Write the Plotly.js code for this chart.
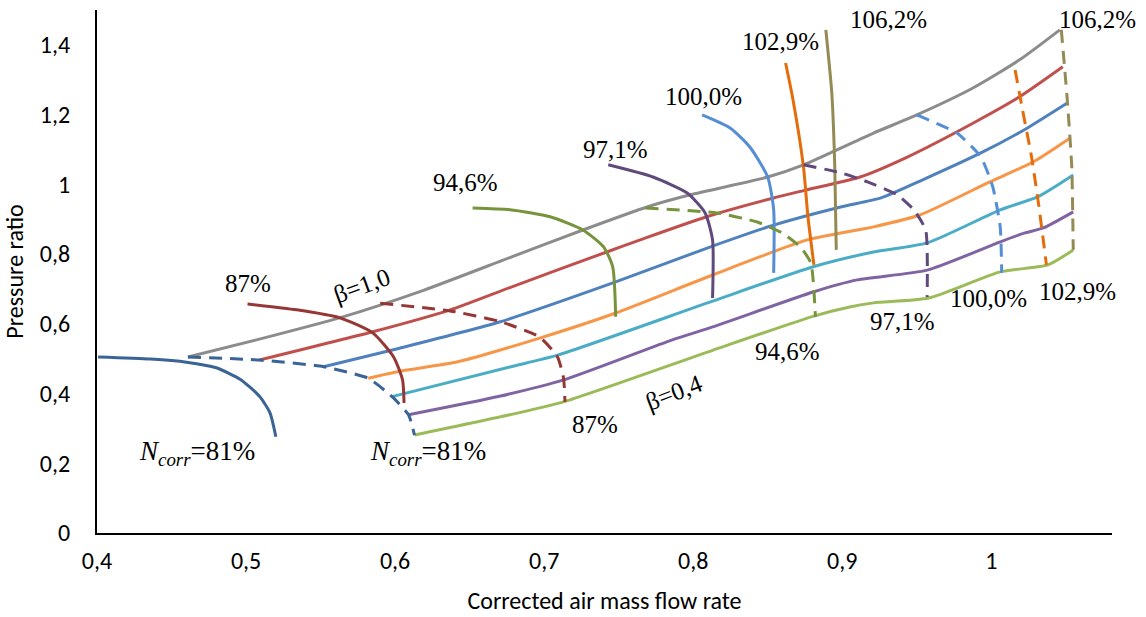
<!DOCTYPE html>
<html>
<head>
<meta charset="utf-8">
<script src="https://cdn.plot.ly/plotly-3.0.1.min.js"></script>
<style>
html,body{margin:0;padding:0;background:#fff;}
#chart{width:1146px;height:617px;}
</style>
</head>
<body>
<div id="chart"></div>
<script>
// ---------- Beta lines (solid), from beta = 1,0 (top) to beta = 0,4 (bottom) ----------
const betaNames = ["β=1,0", "β=0,9", "β=0,8", "β=0,7", "β=0,6", "β=0,5", "β=0,4"];
const beta1X = [0.461, 0.507, 0.565, 0.619, 0.677, 0.726, 0.769, 0.798, 0.850, 0.874, 0.921, 0.950, 0.988, 1.019, 1.046];
const beta1Y = [0.505, 0.554, 0.620, 0.696, 0.790, 0.869, 0.935, 0.970, 1.021, 1.056, 1.147, 1.199, 1.277, 1.357, 1.443];
const beta2X = [0.509, 0.585, 0.637, 0.677, 0.742, 0.764, 0.809, 0.854, 0.876, 0.912, 0.944, 0.988, 1.019, 1.048];
const beta2Y = [0.496, 0.577, 0.640, 0.704, 0.806, 0.840, 0.907, 0.961, 0.984, 1.021, 1.079, 1.176, 1.251, 1.337];
const beta3X = [0.552, 0.603, 0.670, 0.748, 0.813, 0.854, 0.899, 0.926, 0.954, 0.993, 1.024, 1.051];
const beta3Y = [0.477, 0.530, 0.605, 0.720, 0.823, 0.883, 0.935, 0.961, 1.013, 1.090, 1.161, 1.233];
const beta4X = [0.582, 0.603, 0.642, 0.697, 0.748, 0.813, 0.876, 0.921, 0.952, 0.999, 1.028, 1.053];
const beta4Y = [0.444, 0.464, 0.491, 0.559, 0.631, 0.740, 0.840, 0.878, 0.912, 1.007, 1.064, 1.133];
const beta5X = [0.598, 0.677, 0.709, 0.813, 0.880, 0.921, 0.957, 1.006, 1.031, 1.055];
const beta5Y = [0.391, 0.476, 0.510, 0.665, 0.763, 0.806, 0.832, 0.927, 0.964, 1.027];
const beta6X = [0.609, 0.670, 0.713, 0.786, 0.813, 0.881, 0.910, 0.957, 1.006, 1.022, 1.035, 1.055];
const beta6Y = [0.339, 0.392, 0.439, 0.554, 0.591, 0.692, 0.726, 0.754, 0.835, 0.860, 0.875, 0.921];
const beta7X = [0.613, 0.677, 0.713, 0.813, 0.881, 0.905, 0.921, 0.958, 1.006, 1.038, 1.055];
const beta7Y = [0.281, 0.339, 0.376, 0.524, 0.622, 0.648, 0.660, 0.674, 0.749, 0.769, 0.812];

// ---------- Speed lines, original map (solid) ----------
const speedLabels = ["81%", "87%", "94,6%", "97,1%", "100,0%", "102,9%", "106,2%"];
const sol81X  = [0.4007, 0.436, 0.460, 0.480, 0.496, 0.509, 0.516, 0.520];
const sol81Y  = [0.505, 0.499, 0.490, 0.474, 0.441, 0.392, 0.345, 0.276];
const sol87X  = [0.501, 0.534, 0.563, 0.585, 0.599, 0.605, 0.606];
const sol87Y  = [0.657, 0.640, 0.617, 0.574, 0.505, 0.439, 0.373];
const sol946X = [0.652, 0.677, 0.704, 0.726, 0.740, 0.746, 0.748];
const sol946Y = [0.932, 0.927, 0.907, 0.869, 0.820, 0.763, 0.620];
const sol971X = [0.743, 0.773, 0.796, 0.808, 0.813, 0.813];
const sol971Y = [1.056, 1.021, 0.975, 0.918, 0.840, 0.674];
const sol100X = [0.806, 0.825, 0.838, 0.850, 0.854, 0.854];
const sol100Y = [1.199, 1.161, 1.107, 1.021, 0.927, 0.746];
const sol1029X = [0.862, 0.867, 0.874, 0.877, 0.881];
const sol1029Y = [1.348, 1.242, 1.050, 0.907, 0.769];
const sol1062X = [0.889, 0.893, 0.895, 0.896];
const sol1062Y = [1.443, 1.262, 1.050, 0.812];

// ---------- Speed lines, transformed map (dashed) ----------
const das81X  = [0.461, 0.509, 0.552, 0.582, 0.598, 0.609, 0.613];
const das81Y  = [0.505, 0.496, 0.477, 0.444, 0.391, 0.339, 0.281];
const das87X  = [0.590, 0.637, 0.670, 0.697, 0.709, 0.713, 0.714];
const das87Y  = [0.659, 0.637, 0.607, 0.562, 0.505, 0.445, 0.376];
const das946X = [0.768, 0.816, 0.843, 0.860, 0.872, 0.879, 0.882];
const das946Y = [0.932, 0.918, 0.892, 0.860, 0.820, 0.774, 0.620];
const das971X = [0.874, 0.899, 0.917, 0.937, 0.948, 0.956, 0.957];
const das971Y = [1.056, 1.033, 1.007, 0.970, 0.927, 0.869, 0.677];
const das100X = [0.950, 0.977, 0.993, 1.001, 1.006, 1.007];
const das100Y = [1.199, 1.147, 1.079, 0.993, 0.878, 0.746];
const das1029X = [1.016, 1.021, 1.027, 1.032, 1.037];
const das1029Y = [1.328, 1.213, 1.079, 0.935, 0.769];
const das1062X = [1.047, 1.051, 1.054, 1.055];
const das1062Y = [1.443, 1.242, 1.050, 0.812];

const xTitle = "Corrected air mass flow rate";
const yTitle = "Pressure ratio";

// ---------- styling ----------
const betaColors = ["#8C8C8C", "#C0504D", "#4F81BD", "#F79646", "#4BACC6", "#8064A2", "#9BBB59"];
const speedColors = ["#3B6496", "#953735", "#77933C", "#604A7B", "#558ED5", "#E46C0A", "#948A54"];

const betaXs = [beta1X, beta2X, beta3X, beta4X, beta5X, beta6X, beta7X];
const betaYs = [beta1Y, beta2Y, beta3Y, beta4Y, beta5Y, beta6Y, beta7Y];
const solXs = [sol81X, sol87X, sol946X, sol971X, sol100X, sol1029X, sol1062X];
const solYs = [sol81Y, sol87Y, sol946Y, sol971Y, sol100Y, sol1029Y, sol1062Y];
const dasXs = [das81X, das87X, das946X, das971X, das100X, das1029X, das1062X];
const dasYs = [das81Y, das87Y, das946Y, das971Y, das100Y, das1029Y, das1062Y];

const traces = [];
for (let i = 0; i < betaXs.length; i++) {
  traces.push({x: betaXs[i], y: betaYs[i], name: betaNames[i], type: "scatter", mode: "lines",
    line: {color: betaColors[i], width: 3, shape: "spline", smoothing: 0.6}});
}
for (let i = 0; i < solXs.length; i++) {
  traces.push({x: solXs[i], y: solYs[i], name: speedLabels[i], type: "scatter", mode: "lines",
    line: {color: speedColors[i], width: 3, shape: "spline", smoothing: 0.6}});
}
for (let i = 0; i < dasXs.length; i++) {
  traces.push({x: dasXs[i], y: dasYs[i], name: speedLabels[i] + " (β)", type: "scatter", mode: "lines",
    line: {color: speedColors[i], width: 3, dash: "13px,8px", shape: "spline", smoothing: 0.5}});
}

const serif = {family: "Liberation Serif, DejaVu Serif, serif", size: 25, color: "#000"};
function ann(text, x, y, angle, size) {
  return {text: text, x: x, y: y, xref: "x", yref: "y", showarrow: false,
          font: Object.assign({}, serif, size ? {size: size} : {}),
          textangle: angle || 0, xanchor: "center", yanchor: "middle"};
}
const ncorr = "<i>N</i><sub><i>corr</i></sub>=" + speedLabels[0];
const annotations = [
  ann(ncorr, 0.4671, 0.2295, 0, 27),
  ann(ncorr, 0.6221, 0.2295, 0, 27),
  ann(speedLabels[1], 0.5013, 0.717),
  ann(speedLabels[1], 0.7342, 0.3098),
  ann(betaNames[0], 0.5779, 0.7086, -20),
  ann(betaNames[6], 0.7872, 0.4016, -21),
  ann(speedLabels[2], 0.647, 1.004),
  ann(speedLabels[2], 0.8631, 0.5192),
  ann(speedLabels[3], 0.7477, 1.0987),
  ann(speedLabels[3], 0.9403, 0.6053),
  ann(speedLabels[4], 0.8067, 1.2507),
  ann(speedLabels[4], 0.998, 0.674),
  ann(speedLabels[5], 0.8584, 1.4085),
  ann(speedLabels[5], 1.0577, 0.6913),
  ann(speedLabels[6], 0.9309, 1.4716),
  ann(speedLabels[6], 1.0711, 1.4716)
];

const sans = "Carlito, Lato, sans-serif";
const layout = {
  width: 1146, height: 617,
  margin: {l: 97, r: 34, t: 10, b: 84},
  paper_bgcolor: "#fff", plot_bgcolor: "#fff",
  showlegend: false,
  separators: ", ",
  font: {family: sans, size: 24, color: "#000"},
  xaxis: {
    range: [0.4, 1.081], dtick: 0.1, tick0: 0.4,
    showgrid: false, zeroline: false, showline: true, linecolor: "#000", linewidth: 2,
    ticks: "", ticklabelstandoff: 5,
    tickfont: {family: sans, size: 24, color: "#000"},
    title: {text: xTitle, font: {family: sans, size: 24, color: "#000"}, standoff: 18}
  },
  yaxis: {
    range: [0, 1.5], dtick: 0.2, tick0: 0,
    showgrid: false, zeroline: false, showline: true, linecolor: "#000", linewidth: 2,
    ticks: "", ticklabelstandoff: 20,
    tickfont: {family: sans, size: 24, color: "#000"},
    title: {text: yTitle, font: {family: sans, size: 24, color: "#000"}, standoff: 10}
  },
  annotations: annotations
};

Plotly.newPlot("chart", traces, layout, {staticPlot: true, displayModeBar: false});
</script>
</body>
</html>
